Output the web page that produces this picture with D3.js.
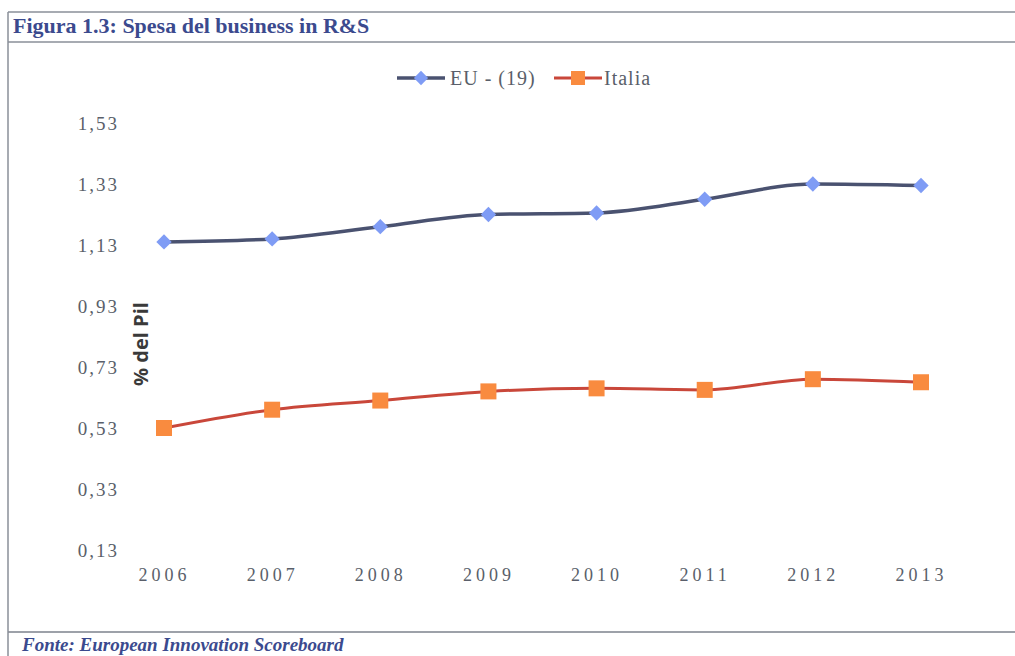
<!DOCTYPE html>
<html>
<head>
<meta charset="utf-8">
<script src="https://cdn.jsdelivr.net/npm/d3@7"></script>
<style>
body { margin: 0; background: #fff; }
</style>
</head>
<body>
<script>
var width = 1015
var height = 656
var years = ["2006", "2007", "2008", "2009", "2010", "2011", "2012", "2013"]
var eu = [1.14, 1.15, 1.19, 1.23, 1.235, 1.28, 1.33, 1.325]
var italia = [0.53, 0.59, 0.62, 0.65, 0.66, 0.655, 0.69, 0.68]
var yticks = [0.13, 0.33, 0.53, 0.73, 0.93, 1.13, 1.33, 1.53]
var serie_names = ["EU - (19)", "Italia"]

var blue = "#3b4a8e"

var svg = d3.select("body").append("svg")
.attr("width", width)
.attr("height", height)

// cornice
svg.append("line").attr("x1", 8).attr("x2", width).attr("y1", 12).attr("y2", 12)
.attr("stroke", "#8a8f99").attr("stroke-width", 1.5)
svg.append("line").attr("x1", 8).attr("x2", width).attr("y1", 42).attr("y2", 42)
.attr("stroke", "#8a8f99").attr("stroke-width", 1.5)
svg.append("line").attr("x1", 8).attr("x2", width).attr("y1", 632).attr("y2", 632)
.attr("stroke", "#7d828c").attr("stroke-width", 1.5)
svg.append("line").attr("x1", 8).attr("x2", 8).attr("y1", 12).attr("y2", height)
.attr("stroke", "#8a8f99").attr("stroke-width", 1.5)

svg.append("text")
.attr("x", 13).attr("y", 33)
.style("font-family", "'Liberation Serif', 'DejaVu Serif', serif")
.style("font-weight", "bold")
.style("font-size", "22px")
.attr("fill", blue)
.text("Figura 1.3: Spesa del business in R&S")

svg.append("text")
.attr("x", 22).attr("y", 651)
.style("font-family", "'Liberation Serif', 'DejaVu Serif', serif")
.style("font-weight", "bold")
.style("font-style", "italic")
.style("font-size", "19px")
.attr("fill", blue)
.text("Fonte: European Innovation Scoreboard")

var x = d3.scalePoint()
.domain(years)
.range([164, 921])

var y = d3.scaleLinear()
.domain([0.13, 1.53])
.range([550, 123])

// asse y
var yAxis = svg.append("g")
.attr("transform", "translate(125,0)")
.call(d3.axisLeft(y).tickValues(yticks).tickSize(0).tickPadding(6)
  .tickFormat(function(d) { return d3.format(".2f")(d).replace(".", ",") }))
yAxis.select(".domain").remove()
yAxis.selectAll("text")
.style("font-family", "'Liberation Serif', 'DejaVu Serif', serif")
.style("font-size", "19px")
.style("letter-spacing", "2px")
.attr("fill", "#5a5f6a")

// asse x
var xAxis = svg.append("g")
.attr("transform", "translate(0,568)")
.call(d3.axisBottom(x).tickSize(0).tickPadding(0))
xAxis.select(".domain").remove()
xAxis.selectAll("text")
.style("font-family", "'Liberation Serif', 'DejaVu Serif', serif")
.style("font-size", "18px")
.style("letter-spacing", "4px")
.attr("fill", "#5a5f6a")

svg.append("text")
.attr("transform", "translate(148,344) rotate(-90)")
.style("text-anchor", "middle")
.style("font-family", "'Open Sans', 'Liberation Sans', sans-serif")
.style("font-weight", "bold")
.style("font-size", "20px")
.attr("fill", "#3a3a3a")
.text("% del Pil")

var line = d3.line()
.x(function(d, i) { return x(years[i]) })
.y(function(d) { return y(d) })
.curve(d3.curveMonotoneX)

svg.append("path").datum(eu)
.attr("d", line)
.attr("fill", "none")
.attr("stroke", "#4a5270")
.attr("stroke-width", 3.5)

svg.append("path").datum(italia)
.attr("d", line)
.attr("fill", "none")
.attr("stroke", "#c9473a")
.attr("stroke-width", 3)

svg.append("g").selectAll("path")
.data(eu)
.enter().append("path")
.attr("d", d3.symbol().type(d3.symbolDiamond2).size(150))
.attr("transform", function(d, i) { return "translate(" + x(years[i]) + "," + y(d) + ")" })
.attr("fill", "#7f9cf5")

svg.append("g").selectAll("rect")
.data(italia)
.enter().append("rect")
.attr("x", function(d, i) { return x(years[i]) - 8 })
.attr("y", function(d) { return y(d) - 8 })
.attr("width", 16)
.attr("height", 16)
.attr("fill", "#f98b3f")

// legenda
var legend = svg.append("g")
legend.append("line").attr("x1", 397).attr("x2", 445).attr("y1", 78).attr("y2", 78)
.attr("stroke", "#4a5270").attr("stroke-width", 3.5)
legend.append("path")
.attr("d", d3.symbol().type(d3.symbolDiamond2).size(130))
.attr("transform", "translate(421,78)")
.attr("fill", "#7f9cf5")
legend.append("text").attr("x", 450).attr("y", 85).text(serie_names[0])
legend.append("line").attr("x1", 554).attr("x2", 602).attr("y1", 78).attr("y2", 78)
.attr("stroke", "#c9473a").attr("stroke-width", 3)
legend.append("rect").attr("x", 571).attr("y", 71).attr("width", 14).attr("height", 14)
.attr("fill", "#f98b3f")
legend.append("text").attr("x", 604).attr("y", 85).text(serie_names[1])
legend.selectAll("text")
.style("font-family", "'Liberation Serif', 'DejaVu Serif', serif")
.style("font-size", "20px")
.style("letter-spacing", "1px")
.attr("fill", "#5a5f6a")
</script>
</body>
</html>
